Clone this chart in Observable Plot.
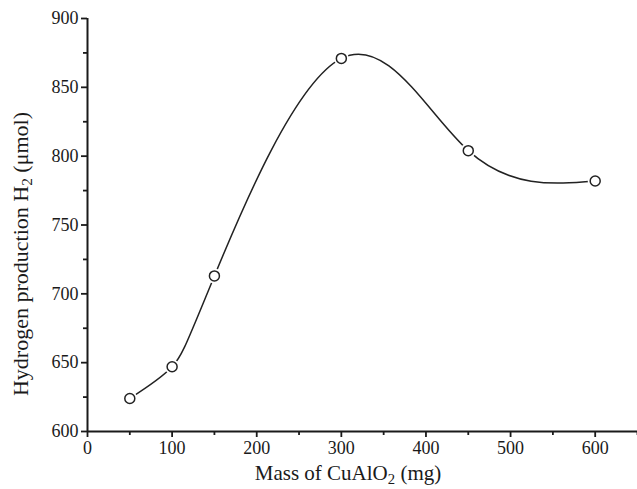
<!DOCTYPE html>
<html><head><meta charset="utf-8">
<script src="https://cdn.jsdelivr.net/npm/d3@7"></script>
<script src="https://cdn.jsdelivr.net/npm/@observablehq/plot@0.6"></script>
<style>body{margin:0;background:#fff}</style>
</head><body><div id="chart"></div>
<script>
const mass = [50, 100, 150, 300, 450, 600];
const hydrogen = [624, 647, 713, 871, 804, 782];
const xTicks = [0, 100, 200, 300, 400, 500, 600];
const xMinor = [50, 150, 250, 350, 450, 550, 650];
const yTicks = [600, 650, 700, 750, 800, 850, 900];
const yMinor = [625, 675, 725, 775, 825, 875];
const xTitle = ["Mass of CuAlO", "2", " (mg)"];
const yTitle = ["Hydrogen production H", "2", " (\u03bcmol)"];

const data = mass.map((m, i) => ({mass: m, h: hydrogen[i]}));
const font = "'Liberation Serif', 'Times New Roman', serif";
const ink = "#1a1a1a";

const chart = Plot.plot({
  width: 637, height: 489,
  marginLeft: 87, marginRight: 0, marginTop: 18, marginBottom: 58,
  style: {fontFamily: font, fontSize: "18px", color: ink, background: "#fff"},
  x: {domain: [0, 650]},
  y: {domain: [600, 900]},
  marks: [
    Plot.axisX({ticks: xTicks, tickSize: 6, tickPadding: 4, label: null, strokeWidth: 1.8, fill: ink}),
    Plot.axisX({ticks: xMinor, tickSize: 4, text: null, label: null, strokeWidth: 1.8}),
    Plot.axisY({ticks: yTicks, tickSize: 6, tickPadding: 3, label: null, strokeWidth: 1.8, fill: ink}),
    Plot.axisY({ticks: yMinor, tickSize: 4, text: null, label: null, strokeWidth: 1.8}),
    Plot.ruleY([600], {stroke: ink, strokeWidth: 2}),
    Plot.ruleX([0], {stroke: ink, strokeWidth: 2}),
    Plot.line(data, {x: "mass", y: "h", curve: "natural", stroke: "#222", strokeWidth: 1.5}),
    Plot.dot(data, {x: "mass", y: "h", r: 7.5, fill: "white", stroke: null}),
    Plot.dot(data, {x: "mass", y: "h", r: 5, fill: "white", stroke: "#222", strokeWidth: 1.5})
  ]
});

const svg = d3.select(chart);
function title(parts, size, attrs) {
  const t = svg.append("text")
    .attr("font-family", font)
    .attr("font-size", size)
    .attr("fill", ink)
    .attr("text-anchor", "middle");
  Object.entries(attrs).forEach(([k, v]) => t.attr(k, v));
  t.append("tspan").text(parts[0]);
  t.append("tspan").attr("font-size", size * 0.7).attr("dy", size * 0.2).text(parts[1]);
  t.append("tspan").attr("dy", -size * 0.2).text(parts[2]);
}
title(xTitle, 21, {x: 348, y: 480});
title(yTitle, 22, {transform: "translate(28,254) rotate(-90)"});

document.getElementById("chart").appendChild(chart);
</script>
</body></html>
